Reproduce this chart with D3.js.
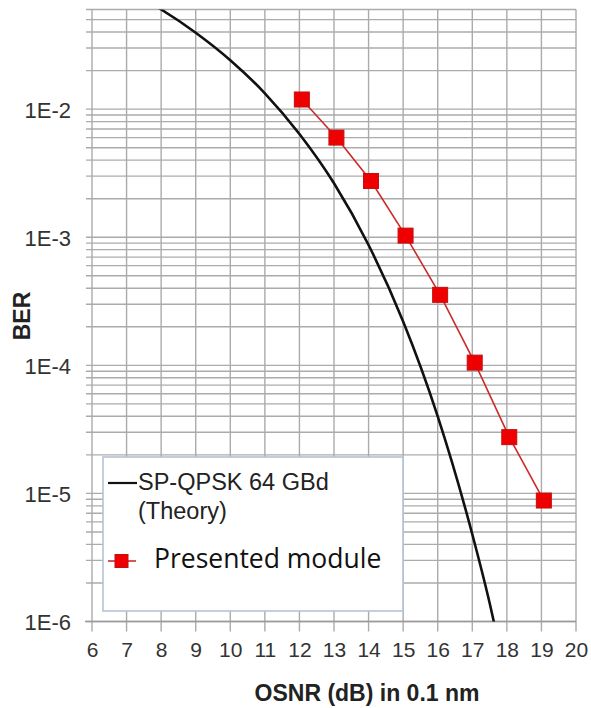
<!DOCTYPE html>
<html>
<head>
<meta charset="utf-8">
<script src="https://cdn.jsdelivr.net/npm/d3@7/dist/d3.min.js"></script>
<style>
  html, body { margin: 0; padding: 0; background: #fff; }
  svg { display: block; }
</style>
</head>
<body>
<svg id="chart" width="591" height="708"></svg>
<script>
// OSNR axis ticks (dB) and BER decade labels
const xTicks = [6, 7, 8, 9, 10, 11, 12, 13, 14, 15, 16, 17, 18, 19, 20];
const yLabelTicks = [1e-2, 1e-3, 1e-4, 1e-5, 1e-6];
const yLabelText = ["1E-2", "1E-3", "1E-4", "1E-5", "1E-6"];

// Theoretical SP-QPSK 64 GBd curve
const theoryOsnr = [7.5, 8, 9, 10, 11, 12, 13, 14, 15, 16, 17, 17.5, 17.8];
const theoryBer  = [0.072, 0.060, 0.0395, 0.0241, 0.0133, 0.0064, 0.00264, 8.7e-4, 2.2e-4, 4.0e-5, 4.8e-6, 1.4e-6, 6.0e-7];

// Measured BER of the presented module
const moduleOsnr = [12.07, 13.07, 14.07, 15.07, 16.07, 17.07, 18.07, 19.07];
const moduleBer  = [1.19e-2, 6.0e-3, 2.75e-3, 1.03e-3, 3.55e-4, 1.05e-4, 2.75e-5, 8.8e-6];

const svg = d3.select("#chart");
const plotL = 92, plotR = 576, plotT = 9.5, plotB = 621.5;

const x = d3.scaleLinear().domain([6, 20]).range([plotL, plotR]);
const y = d3.scaleLog().domain([1e-6, 0.06]).range([plotB, plotT]);

const gridColor = "#ababab";

// minor/major horizontal grid values: 1..9 x 10^n up to 6E-2
const yGrid = [];
for (let e = -6; e <= -2; e++) {
  for (let m = 1; m <= 9; m++) {
    const v = m * Math.pow(10, e);
    if (v <= 0.0600001) yGrid.push(v);
  }
}

const grid = svg.append("g");
grid.selectAll("line.h").data(yGrid).join("line")
  .attr("class", "h")
  .attr("x1", plotL - 6).attr("x2", plotR)
  .attr("y1", d => y(d)).attr("y2", d => y(d))
  .attr("stroke", gridColor).attr("stroke-width", 1.4);

grid.selectAll("line.v").data(xTicks).join("line")
  .attr("class", "v")
  .attr("x1", d => x(d)).attr("x2", d => x(d))
  .attr("y1", plotT).attr("y2", plotB + 10)
  .attr("stroke", gridColor).attr("stroke-width", 1.4);

// x axis baseline
svg.append("line")
  .attr("x1", plotL - 7).attr("x2", plotR)
  .attr("y1", plotB).attr("y2", plotB)
  .attr("stroke", "#9a9a9a").attr("stroke-width", 1.6);

// x tick labels
const xAxis = d3.axisBottom(x).tickValues(xTicks).tickSize(0).tickPadding(0)
  .tickFormat(d3.format("d"));
const gx = svg.append("g").attr("transform", `translate(0,${plotB})`).call(xAxis);
gx.select(".domain").remove();
gx.selectAll("text")
  .attr("y", 35).attr("dy", null)
  .attr("font-family", "Liberation Sans, Arial, sans-serif")
  .attr("font-size", 21).attr("fill", "#333");

// y tick labels
const yAxis = d3.axisLeft(y).tickValues(yLabelTicks).tickSize(0).tickPadding(0)
  .tickFormat((d, i) => yLabelText[i]);
const gy = svg.append("g").attr("transform", `translate(71,0)`).call(yAxis);
gy.select(".domain").remove();
gy.selectAll("text")
  .attr("x", 0).attr("dy", "0.36em")
  .attr("font-family", "Liberation Sans, Arial, sans-serif")
  .attr("font-size", 22).attr("fill", "#333");

// axis titles
svg.append("text")
  .attr("x", 367).attr("y", 701)
  .attr("text-anchor", "middle")
  .attr("font-family", "Liberation Sans, Arial, sans-serif")
  .attr("font-weight", "bold").attr("font-size", 23).attr("fill", "#222")
  .text("OSNR (dB) in 0.1 nm");

svg.append("text")
  .attr("transform", "translate(30,316) rotate(-90)")
  .attr("text-anchor", "middle")
  .attr("font-family", "Liberation Sans, Arial, sans-serif")
  .attr("font-weight", "bold").attr("font-size", 23).attr("fill", "#222")
  .text("BER");

// plot clip
svg.append("clipPath").attr("id", "plotClip")
  .append("rect").attr("x", plotL).attr("y", plotT)
  .attr("width", plotR - plotL).attr("height", plotB - plotT);

// legend box (drawn beneath the data lines)
const lg = svg.append("g");
lg.append("rect")
  .attr("x", 103).attr("y", 457).attr("width", 300).attr("height", 154)
  .attr("fill", "#fff").attr("stroke", "#b3c3d6").attr("stroke-width", 1.6);

// theory curve
const theory = theoryOsnr.map((v, i) => [v, theoryBer[i]]);
const lineGen = d3.line()
  .x(d => x(d[0])).y(d => y(d[1]))
  .curve(d3.curveMonotoneX);
svg.append("path")
  .datum(theory)
  .attr("clip-path", "url(#plotClip)")
  .attr("d", lineGen)
  .attr("fill", "none").attr("stroke", "#111").attr("stroke-width", 2.6);

// module measurement
const meas = moduleOsnr.map((v, i) => [v, moduleBer[i]]);
svg.append("path")
  .datum(meas)
  .attr("d", d3.line().x(d => x(d[0])).y(d => y(d[1])))
  .attr("fill", "none").attr("stroke", "#cc2a2a").attr("stroke-width", 1.6);

const sq = 15;
svg.selectAll("rect.pt").data(meas).join("rect")
  .attr("class", "pt")
  .attr("x", d => x(d[0]) - sq / 2).attr("y", d => y(d[1]) - sq / 2)
  .attr("width", sq).attr("height", sq)
  .attr("fill", "#ee0000").attr("stroke", "#c41010").attr("stroke-width", 1);

// legend entries
lg.append("line")
  .attr("x1", 108).attr("x2", 137).attr("y1", 483).attr("y2", 483)
  .attr("stroke", "#111").attr("stroke-width", 2.2);
lg.append("text")
  .attr("x", 138).attr("y", 490)
  .attr("font-family", "Liberation Sans, Arial, sans-serif")
  .attr("font-size", 23.5).attr("fill", "#222")
  .text("SP-QPSK 64 GBd");
lg.append("text")
  .attr("x", 138).attr("y", 519)
  .attr("font-family", "Liberation Sans, Arial, sans-serif")
  .attr("font-size", 23.5).attr("fill", "#222")
  .text("(Theory)");

lg.append("line")
  .attr("x1", 108).attr("x2", 136).attr("y1", 561).attr("y2", 561)
  .attr("stroke", "#cc2a2a").attr("stroke-width", 1.6);
lg.append("rect")
  .attr("x", 115).attr("y", 554.5).attr("width", 13).attr("height", 13)
  .attr("fill", "#ee0000").attr("stroke", "#c41010").attr("stroke-width", 1);
lg.append("text")
  .attr("x", 154).attr("y", 568)
  .attr("font-family", "Open Sans, Lato, sans-serif")
  .attr("font-size", 26.5).attr("fill", "#111")
  .text("Presented module");
</script>
</body>
</html>
